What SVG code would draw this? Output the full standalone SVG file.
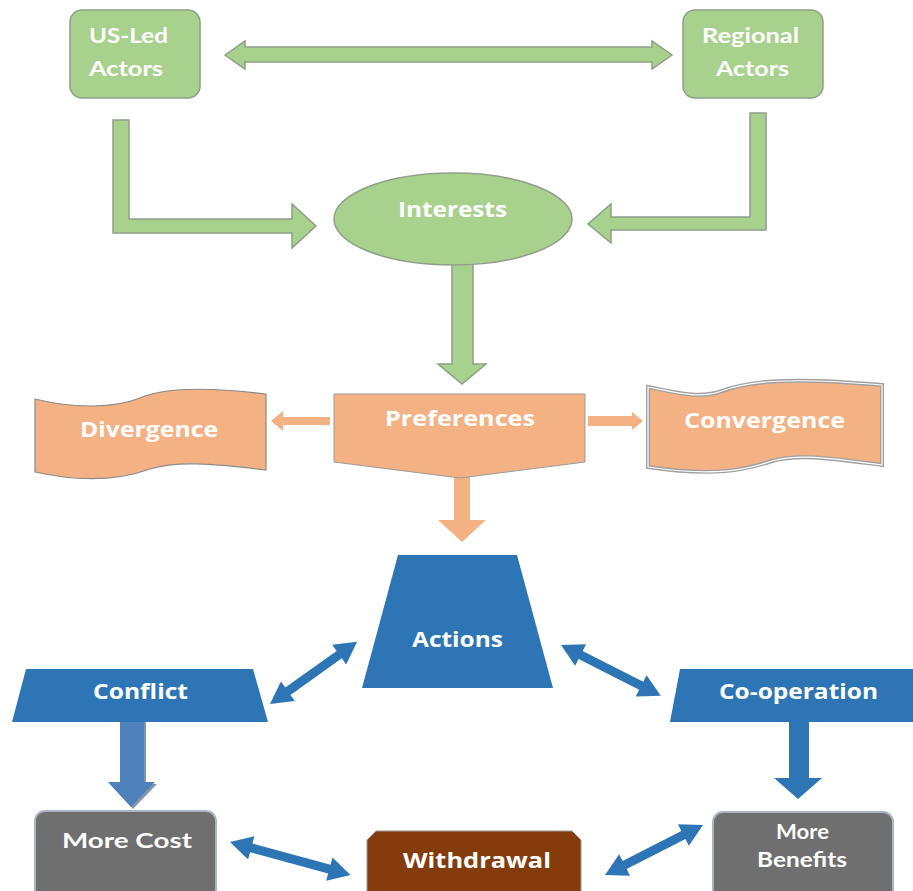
<svg xmlns="http://www.w3.org/2000/svg" width="913" height="891" viewBox="0 0 913 891">
  <defs>
    <style>
      .lbl { font-family: "Open Sans", "Liberation Sans", sans-serif; font-weight: bold; fill: #ffffff; font-size: 21px; }
      .geo { font-family: "Lato", "Open Sans", "Liberation Sans", sans-serif; font-weight: bold; fill: #ffffff; font-size: 20px; }
      .green { fill: #a9d18e; stroke: #8f9f88; stroke-width: 1.5; }
      .orange { fill: #f4b183; }
      .blue { fill: #2e75b6; }
      .gray { fill: #706f6f; stroke: #aab4c4; stroke-width: 2; }
    </style>
  </defs>
  <rect width="913" height="891" fill="#ffffff"/>

  <!-- connectors -->
  <g id="connectors">
    <!-- actors exchange -->
    <path class="green" d="M225,55 L245,41 L245,47 L652,47 L652,41 L672,55 L652,69 L652,62 L245,62 L245,69 Z"/>
    <!-- actors to interests -->
    <path class="green" d="M113,120 L129,120 L129,219 L292,219 L292,204 L316,226 L292,248 L292,233 L113,233 Z"/>
    <path class="green" d="M750,113 L766,113 L766,230 L611,230 L611,243 L588,224 L611,204 L611,217 L750,217 Z"/>
    <!-- interests to preferences -->
    <path class="green" d="M452,255 L473,255 L473,364 L486,364 L462,384 L438,364 L452,364 Z"/>
    <!-- preferences outputs -->
    <path class="orange" d="M330,417 L283,417 L283,411 L271,421 L283,431 L283,425 L330,425 Z"/>
    <path class="orange" d="M588,416 L632,416 L632,412 L643,421 L632,430 L632,426 L588,426 Z"/>
    <path class="orange" d="M454,470 L470,470 L470,520 L486,520 L462,542 L438,520 L454,520 Z"/>
    <!-- conflict to more cost -->
    <path fill="#8595ab" d="M122,720 L146,720 L146,784 L157,784 L133,809 L110,784 L122,784 Z"/>
    <path fill="#4f81bd" d="M120,718 L144,718 L144,782 L155,782 L131,807 L108,782 L120,782 Z"/>
    <!-- co-operation to more benefits -->
    <path class="blue" d="M789,722 L809,722 L809,778 L822,778 L798,799 L774,778 L789,778 Z"/>
    <!-- two-way links -->
    <path class="blue" transform="translate(270,704) rotate(-35.5)" d="M0,0 L22,-12 L22,-4.5 L85,-4.5 L85,-12 L107,0 L85,12 L85,4.5 L22,4.5 L22,12 Z"/>
    <path class="blue" transform="translate(561,645) rotate(27)" d="M0,0 L22,-12 L22,-4.5 L90,-4.5 L90,-12 L112,0 L90,12 L90,4.5 L22,4.5 L22,12 Z"/>
    <path class="blue" transform="translate(230,842) rotate(15.3)" d="M0,0 L22,-12 L22,-4.5 L103,-4.5 L103,-12 L125,0 L103,12 L103,4.5 L22,4.5 L22,12 Z"/>
    <path class="blue" transform="translate(605,875) rotate(-27)" d="M0,0 L22,-12 L22,-4.5 L88,-4.5 L88,-12 L110,0 L88,12 L88,4.5 L22,4.5 L22,12 Z"/>
  </g>

  <g id="us-led-actors">
    <rect class="green" x="70" y="10" width="130" height="88" rx="12"/>
    <text class="geo" x="89" y="43" textLength="79" lengthAdjust="spacingAndGlyphs">US-Led</text>
    <text class="geo" x="89" y="76" textLength="74" lengthAdjust="spacingAndGlyphs">Actors</text>
  </g>

  <g id="regional-actors">
    <rect class="green" x="683" y="10" width="140" height="88" rx="12"/>
    <text class="geo" x="750.5" y="43" text-anchor="middle" textLength="97" lengthAdjust="spacingAndGlyphs">Regional</text>
    <text class="geo" x="752.5" y="76" text-anchor="middle" textLength="73" lengthAdjust="spacingAndGlyphs">Actors</text>
  </g>

  <g id="interests">
    <ellipse class="green" cx="453" cy="219" rx="119" ry="46"/>
    <text class="lbl" x="452.5" y="217" text-anchor="middle" textLength="109" lengthAdjust="spacingAndGlyphs">Interests</text>
  </g>

  <g id="preferences">
    <path class="orange" stroke="#9a9a9a" stroke-width="1" d="M334,394 L585,394 L585,462 L460,478 L334,462 Z"/>
    <text class="lbl" x="460" y="426" text-anchor="middle" textLength="150" lengthAdjust="spacingAndGlyphs">Preferences</text>
  </g>

  <g id="divergence">
    <path class="orange" stroke="#8a8a8a" stroke-width="1.2" d="M35,399 C75,409 115,408 140,398 C160,389 200,386 266,394 L266,470 C210,463 175,461 150,469 C120,480 80,482 35,472 Z"/>
    <text class="lbl" x="149" y="437" text-anchor="middle" font-size="22" textLength="138" lengthAdjust="spacingAndGlyphs">Divergence</text>
  </g>

  <g id="convergence">
    <path class="orange" stroke="#a0a0a0" stroke-width="4" d="M648,387 C678,393 700,399 722,391 C748,381 790,377 882,385 L882,465 C835,459 800,453 772,461 C745,470 715,477 648,467 Z"/>
    <path fill="none" stroke="#ffffff" stroke-width="1.2" d="M648,387 C678,393 700,399 722,391 C748,381 790,377 882,385 L882,465 C835,459 800,453 772,461 C745,470 715,477 648,467 Z"/>
    <text class="lbl" x="764.5" y="428" text-anchor="middle" font-size="22" textLength="161" lengthAdjust="spacingAndGlyphs">Convergence</text>
  </g>

  <g id="actions">
    <path class="blue" d="M398,555 L517,555 L553,688 L362,688 Z"/>
    <text class="lbl" x="457.5" y="647" text-anchor="middle" textLength="91" lengthAdjust="spacingAndGlyphs">Actions</text>
  </g>

  <g id="conflict">
    <path class="blue" d="M26,669 L253,669 L268,722 L12,722 Z"/>
    <text class="lbl" x="140.5" y="699" text-anchor="middle" textLength="95" lengthAdjust="spacingAndGlyphs">Conflict</text>
  </g>

  <g id="co-operation">
    <path class="blue" d="M680,669 L913,669 L913,722 L670,722 Z"/>
    <text class="lbl" x="798.5" y="699" text-anchor="middle" textLength="159" lengthAdjust="spacingAndGlyphs">Co-operation</text>
  </g>

  <g id="more-cost">
    <rect class="gray" x="35" y="811" width="181" height="95" rx="10"/>
    <text class="geo" x="127" y="848" text-anchor="middle" textLength="130" lengthAdjust="spacingAndGlyphs">More Cost</text>
  </g>

  <g id="withdrawal">
    <path fill="#843c0c" stroke="#9a9a9a" stroke-width="1" d="M376,831 L572,831 L581,840 L581,900 L367,900 L367,840 Z"/>
    <text class="lbl" x="477" y="868" text-anchor="middle" font-size="22" textLength="148" lengthAdjust="spacingAndGlyphs">Withdrawal</text>
  </g>

  <g id="more-benefits">
    <rect class="gray" x="713" y="812" width="180" height="95" rx="10"/>
    <text class="geo" x="802.5" y="839" text-anchor="middle" font-size="18" textLength="53" lengthAdjust="spacingAndGlyphs">More</text>
    <text class="geo" x="802" y="867" text-anchor="middle" font-size="18" textLength="90" lengthAdjust="spacingAndGlyphs">Benefits</text>
  </g>
</svg>
